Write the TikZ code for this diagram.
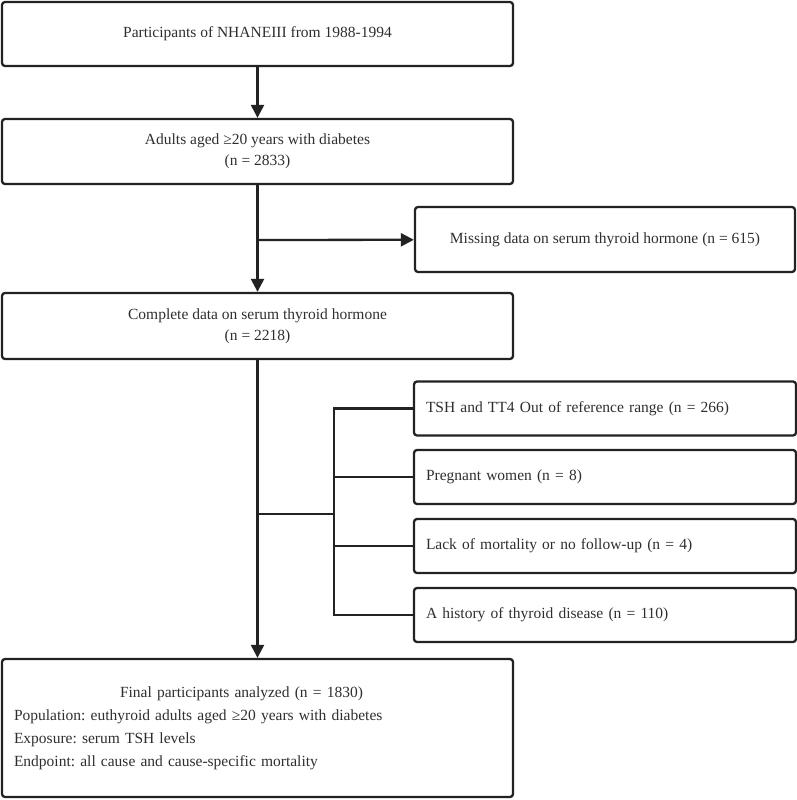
\documentclass[tikz,border=0pt]{standalone}
\usepackage{fontspec}
\setmainfont{Liberation Serif}
\usepackage{tikz}
\usetikzlibrary{shapes}
\usetikzlibrary{arrows.meta}
\usetikzlibrary{positioning}

\definecolor{linegray}{HTML}{222222}
\definecolor{textgray}{HTML}{2E2E2E}
\frenchspacing

\begin{document}
\begin{tikzpicture}[x=1pt,y=-1pt]
				\tikzset{box/.style = {shape=rectangle,draw=linegray,line width=2.3pt,
						rounded corners=3pt,text=textgray,inner sep = 0pt,
						font=\fontsize{15.5}{21}\selectfont}}
				\tikzset{mainbox/.style = {box,minimum width=511pt,align=center}}
				\tikzset{sidebox/.style = {box,minimum width=382pt,minimum height=54pt,
						text width=358pt,align=left}}
				\tikzset{edge/.style = {-{Triangle[length=13pt,width=13pt]},draw=linegray,line width=2.3pt}}
				\tikzset{line/.style = {draw=linegray,line width=2.3pt}}
				
				\useasboundingbox (0,0) rectangle (797,800);
				
				% vertices
				\node[mainbox,minimum height=64pt] (all) at (257.5,34) {Participants of NHANEIII from 1988-1994};
				\node[mainbox,minimum height=65pt] (adult) at (257.5,151.5) {\rule{0pt}{8pt}Adults aged ≥20 years with diabetes\\(n = 2833)};
				\node[box,minimum width=380pt,minimum height=65pt] (miss) at (605,239.5) {Missing data on serum thyroid hormone (n = 615)};
				\node[mainbox,minimum height=66pt] (compl) at (257.5,326) {\rule{0pt}{8pt}Complete data on serum thyroid hormone\\(n = 2218)};
				
				\node[sidebox] (range) at (605,408.5) {TSH and TT4 Out of reference range (n = 266)};
				\node[sidebox] (preg) at (605,477) {Pregnant women (n = 8)};
				\node[sidebox] (lack) at (605,546) {Lack of mortality or no follow-up (n = 4)};
				\node[sidebox] (hist) at (605,615) {A history of thyroid disease (n = 110)};
				
				\node[box,minimum width=511pt,minimum height=138pt,text width=487pt,align=left,
					font=\fontsize{15.5}{23}\selectfont] (final) at (257.5,728)
					{\hspace*{106pt}Final participants analyzed (n = 1830)\\
					Population: euthyroid adults aged ≥20 years with diabetes\\
					Exposure: serum TSH levels\\
					Endpoint: all cause and cause-specific mortality};
				
				\coordinate (j1) at (257.5,240);
				\coordinate (j2) at (257.5,514);
				\coordinate (brk) at (334,514);
				
				%edges
				
				\draw[edge] (all) to (adult);
				\draw[edge] (adult) to (compl);
				\draw[edge] (j1) to (miss);
				\draw[edge] (compl) to (final);
				\draw[line] (j2) to (brk);
				\draw[line] (range.west) -- (range.west -| brk) -- (hist.west -| brk) -- (hist.west);
				\draw[line] (preg.west) -- (preg.west -| brk);
				\draw[line] (lack.west) -- (lack.west -| brk);
				
				\end{tikzpicture}
\end{document}
